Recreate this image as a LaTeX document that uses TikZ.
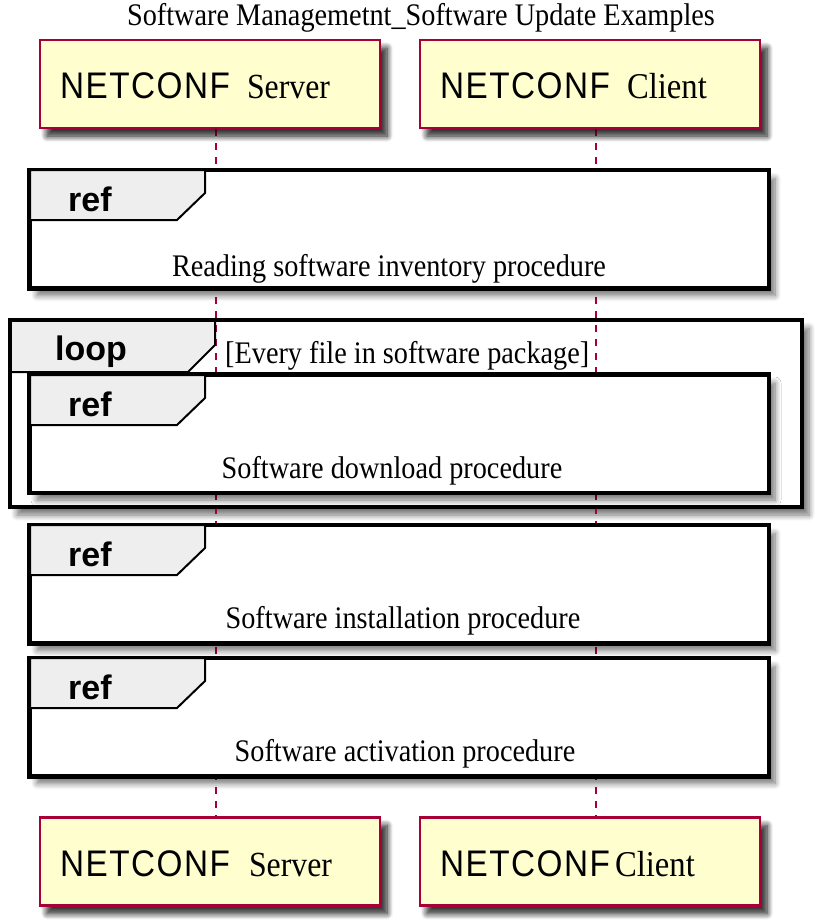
\documentclass[tikz,border=0pt]{standalone}
\usepackage{fontspec}
\setmainfont{Liberation Serif}[FakeStretch=0.9]
\newfontfamily\netfont{Liberation Sans}[FakeStretch=0.9,LetterSpace=4]
\newfontfamily\tabfont{Liberation Sans}
\usetikzlibrary{shadows.blur}
\definecolor{pred}{HTML}{A80036}
\definecolor{pfill}{HTML}{FEFECE}
\definecolor{tabgray}{HTML}{EEEEEE}
\tikzset{
  shad/.style={blur shadow={shadow xshift=7pt, shadow yshift=-8pt, shadow blur radius=6pt, shadow blur steps=8, shadow opacity=55}},
  part/.style={draw=pred, line width=2.8pt, fill=pfill, shad, minimum width=340pt, minimum height=88pt, inner sep=0pt},
  refbox/.style={draw=black, line width=3pt, fill=white, shad, minimum width=738pt, minimum height=117pt, inner sep=0pt},
  tabshape/.style={draw=black, line width=2pt, fill=tabgray},
  lifeline/.style={draw=pred, line width=1.5pt, dash pattern=on 7pt off 7pt},
  parttext/.style={anchor=base west, inner sep=0pt},
  reftext/.style={anchor=base, inner sep=0pt, font=\fontsize{31.4}{36}\selectfont},
  tabtext/.style={anchor=base west, inner sep=0pt, font=\tabfont\bfseries\fontsize{34}{38}\selectfont},
}
\newcommand{\netc}{{\netfont\fontsize{37}{42}\selectfont NETCONF}}
\begin{document}
\begin{tikzpicture}[x=1pt,y=-1pt]
\useasboundingbox (0,0) rectangle (817,924);
% title
\node[anchor=base, inner sep=0pt, font=\fontsize{31.4}{36}\selectfont] (title) at (421,25) {Software Managemetnt\_Software Update Examples};
% loop background with shadow
\node[draw=none, fill=white, shad, minimum width=792pt, minimum height=187pt, inner sep=0pt] (loopbg) at (406,413.5) {};
% participants
\node[part] (s1) at (210,84) {};
\node[part] (c1) at (590,84) {};
\node[part] (s2) at (210,861.5) {};
\node[part] (c2) at (590,861.5) {};
% lifelines
\draw[lifeline] ([xshift=6pt]s1.south) -- ([xshift=6pt]s2.north);
\draw[lifeline] ([xshift=6pt]c1.south) -- ([xshift=6pt]c2.north);
% redraw participants above lifelines
\node[part] at (210,84) {};
\node[part] at (590,84) {};
\node[part] at (210,861.5) {};
\node[part] at (590,861.5) {};
% ref boxes
\node[refbox] (r1) at (399,229) {};
\node[refbox] (r2) at (399,433.5) {};
\node[refbox] (r3) at (399,584) {};
\node[refbox] (r4) at (399,717) {};
% tabs
\draw[tabshape] (30,170) -- (205,170) -- (205,193) -- (177,220) -- (30,220) -- cycle;
\draw[tabshape] (30,375) -- (205,375) -- (205,398) -- (177,425) -- (30,425) -- cycle;
\draw[tabshape] (30,525) -- (205,525) -- (205,548) -- (177,575) -- (30,575) -- cycle;
\draw[tabshape] (30,658) -- (205,658) -- (205,681) -- (177,708) -- (30,708) -- cycle;
\foreach \n in {r1,r2,r3,r4} {\draw[line width=3pt] (\n.north west) rectangle (\n.south east);}
% loop
\draw[tabshape] (10,320) -- (215,320) -- (215,345) -- (188,372) -- (10,372) -- cycle;
\draw[line width=4.5pt] (loopbg.north west) rectangle (loopbg.south east);
% tab texts
\node[tabtext] (t1) at (68,211) {ref};
\node[tabtext] (t2) at (68,416) {ref};
\node[tabtext] (t3) at (68,566) {ref};
\node[tabtext] (t4) at (68,699) {ref};
\node[tabtext] (tl) at (55,360) {loop};
% texts
\node[reftext] (l1) at (389,276) {Reading software inventory procedure};
\node[reftext] (l2) at (392,478) {Software download procedure};
\node[reftext] (l3) at (403,628) {Software installation procedure};
\node[reftext] (l4) at (405,761) {Software activation procedure};
\node[anchor=base west, inner sep=0pt, font=\fontsize{31.4}{36}\selectfont] (ll) at (225,363) {[Every file in software package]};
% participant labels
\node[parttext] (s1t) at (60,98) {\netc\hspace{17pt}\fontsize{35.3}{40}\selectfont Server};
\node[parttext] (c1t) at (440,98) {\netc\hspace{17pt}\fontsize{36.3}{40}\selectfont Client};
\node[parttext] (s2t) at (60,876) {\netc\hspace{19pt}\fontsize{35.3}{40}\selectfont Server};
\node[parttext] (c2t) at (440,876) {\netc\hspace{5pt}\fontsize{36.3}{40}\selectfont Client};
\end{tikzpicture}
\end{document}
